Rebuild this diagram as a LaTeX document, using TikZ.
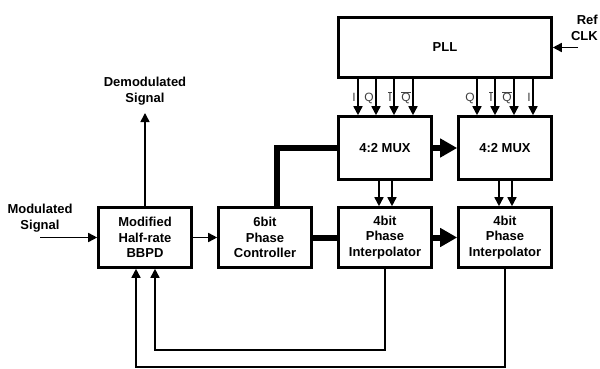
\documentclass[tikz,border=0pt]{standalone}
\usepackage{fontspec}
\setmainfont{Liberation Sans}
\usetikzlibrary{arrows.meta,calc}
\tikzset{
  blk/.style={draw, line width=2.6pt, fill=white, minimum width=93pt, minimum height=60pt, inner sep=0pt, align=center, font=\bfseries\fontsize{13}{15.7}\selectfont},
  lbl/.style={align=center, inner sep=0pt, font=\bfseries\fontsize{13}{15.7}\selectfont},
  sml/.style={inner sep=0pt, text=black!75, font=\fontsize{12}{13}\selectfont},
  arr/.style={line width=1.6pt, -{Triangle[length=9pt,width=9pt]}},
  ln/.style={line width=1.6pt},
  fat/.style={line width=6pt},
  fatarr/.style={line width=6pt, -{Triangle[length=17pt,width=18pt]}},
}
\newcommand{\ovl}[1]{$\overline{\hbox{#1}}$}
\begin{document}
\begin{tikzpicture}[x=1pt,y=-1pt]
\useasboundingbox (0,0) rectangle (600,369);
% blocks
\node[blk, minimum width=213pt] (PLL) at (445,47.5) {PLL};
\node[blk, minimum height=63pt] (MUX1) at (385,148) {4:2 MUX};
\node[blk, minimum height=63pt] (MUX2) at (505,148) {4:2 MUX};
\node[blk] (BBPD) at (145,237.5) {Modified\\Half-rate\\BBPD};
\node[blk] (PC) at (265,237.5) {6bit\\Phase\\Controller};
\node[blk] (PI1) at (385,237.5) {4bit\\Phase\\Interpolator};
\node[blk] (PI2) at (505,237.5) {4bit\\Phase\\Interpolator};
% texts
\node[lbl] (demod) at (145,91) {Demodulated\\Signal};
\node[lbl] (mod) at (40,218) {Modulated\\Signal};
\node[lbl, anchor=east, align=right] (ref) at (598,28) {Ref\\CLK};
\coordinate (dtip) at (145,113);
\coordinate (min) at (40,237.5);
\coordinate (rin) at (578,47.5);
% simple arrows
\draw[arr] (BBPD.north) -- (dtip);
\draw[arr] (min) -- (BBPD.west);
\draw[arr] (rin) -- (PLL.east);
\draw[arr] (BBPD.east) -- (PC.west);
% PLL outputs
\foreach \x/\t in {358/I,376/Q,394/\ovl{I},413/\ovl{Q},477/Q,495/\ovl{I},514/\ovl{Q},533/I}{
  \draw[arr] (PLL.south -| \x,0) -- (MUX1.north -| \x,0);
  \node[sml, anchor=base east] at (\x-2,102) {\t};
}
% MUX to PI
\foreach \x in {379,392}{\draw[arr] (MUX1.south -| \x,0) -- (PI1.north -| \x,0);}
\foreach \x in {499,512}{\draw[arr] (MUX2.south -| \x,0) -- (PI2.north -| \x,0);}
% thick buses
\draw[fat] ($(PC.north)+(12,0)$) |- (MUX1.west);
\draw[fat] (PC.east) -- (PI1.west);
\draw[fatarr] (MUX1.east) -- (MUX2.west);
\draw[fatarr] (PI1.east) -- (PI2.west);
% feedback
\draw[arr] (PI1.south) -- (385,350) -| ($(BBPD.south)+(10,0)$);
\draw[arr] (PI2.south) -- (505,367) -| ($(BBPD.south)+(-9,0)$);
\end{tikzpicture}
\end{document}
